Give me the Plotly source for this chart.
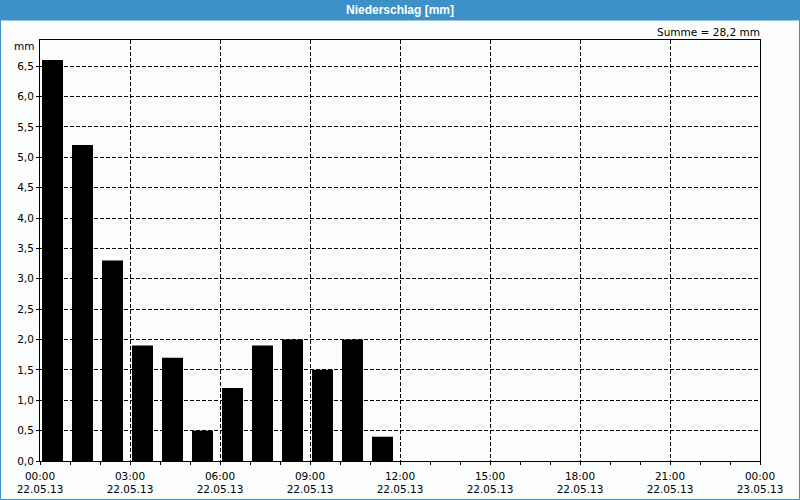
import plotly.graph_objects as go
from datetime import datetime, timedelta

# ---- data ----
hour_starts = ["2013-05-22 00:00", "2013-05-22 01:00", "2013-05-22 02:00", "2013-05-22 03:00",
               "2013-05-22 04:00", "2013-05-22 05:00", "2013-05-22 06:00", "2013-05-22 07:00",
               "2013-05-22 08:00", "2013-05-22 09:00", "2013-05-22 10:00", "2013-05-22 11:00"]
precip_mm = [6.6, 5.2, 3.3, 1.9, 1.7, 0.5, 1.2, 1.9, 2.0, 1.5, 2.0, 0.4]
title_text = "Niederschlag [mm]"
sum_text = "Summe = 28,2 mm"
y_unit = "mm"

# ---- layout geometry ----
W, H = 800, 500
L, R, T, B = 40, 40, 40, 39
PW, PH = W - L - R, H - T - B


def xp(px):
    return (px - L) / PW


def yp(py):
    return (H - B - py) / PH


BLUE = "#3C91C8"
BG = "#FAFDFC"
FONT = "Liberation Sans"
TICKFONT = "DejaVu Sans"

starts = [datetime.strptime(s, "%Y-%m-%d %H:%M") for s in hour_starts]
centers = [s + timedelta(minutes=25) for s in starts]

fig = go.Figure(go.Bar(
    x=centers, y=precip_mm,
    width=42 * 60 * 1000,
    marker=dict(color="black", line=dict(width=0)),
    hoverinfo="x+y",
))

fig.update_layout(
    width=W, height=H,
    margin=dict(l=L, r=R, t=T, b=B, autoexpand=False),
    paper_bgcolor=BG, plot_bgcolor=BG,
    separators=",.",
    showlegend=False,
    font=dict(family=FONT, size=11, color="black"),
    xaxis=dict(
        type="date",
        automargin=False,
        range=["2013-05-22 00:00", "2013-05-23 00:00"],
        dtick=3 * 3600 * 1000,
        tick0="2013-05-22 00:00",
        tickformat="%H:%M<br>%d.%m.%y",
        ticks="outside", ticklen=3, tickcolor="black",
        ticklabelstandoff=2,
        showgrid=True, gridcolor="black", griddash="4px,2px", gridwidth=1,
        minor=dict(dtick=3600 * 1000, ticks="outside", ticklen=3, tickcolor="black", showgrid=False),
        showline=True, linecolor="black", linewidth=1, mirror=True,
        zeroline=False, fixedrange=True,
        tickfont=dict(family=TICKFONT, size=10.5),
    ),
    yaxis=dict(
        automargin=False,
        range=[0, 6.93],
        dtick=0.5, tick0=0,
        tickformat=".1f",
        ticks="outside", ticklen=3, tickcolor="black",
        showgrid=True, gridcolor="black", griddash="4px,2px", gridwidth=1,
        showline=True, linecolor="black", linewidth=1, mirror=True,
        zeroline=False, fixedrange=True,
        tickfont=dict(family=TICKFONT, size=10.5),
    ),
    shapes=[
        # title bar
        dict(type="rect", xref="paper", yref="paper", layer="above",
             x0=xp(0), x1=xp(W), y0=yp(20), y1=yp(0),
             fillcolor=BLUE, line=dict(width=0)),
        # window border
        dict(type="rect", xref="paper", yref="paper", layer="above",
             x0=xp(0.5), x1=xp(W - 0.5), y0=yp(H - 0.5), y1=yp(20),
             fillcolor="rgba(0,0,0,0)", line=dict(color=BLUE, width=1)),
    ],
    annotations=[
        dict(text="<b>" + title_text + "</b>", xref="paper", yref="paper",
             x=xp(W / 2), y=yp(10), showarrow=False, xanchor="center", yanchor="middle",
             font=dict(family=FONT, size=12, color="white")),
        dict(text=sum_text, xref="paper", yref="paper",
             x=xp(762), y=yp(32), showarrow=False, xanchor="right", yanchor="middle",
             font=dict(family=TICKFONT, size=10.5, color="black")),
        dict(text=y_unit, xref="paper", yref="paper",
             x=xp(36), y=yp(46), showarrow=False, xanchor="right", yanchor="middle",
             font=dict(family=TICKFONT, size=10.5, color="black")),
    ],
)

fig.write_html("out.html", config=dict(displayModeBar=False))
